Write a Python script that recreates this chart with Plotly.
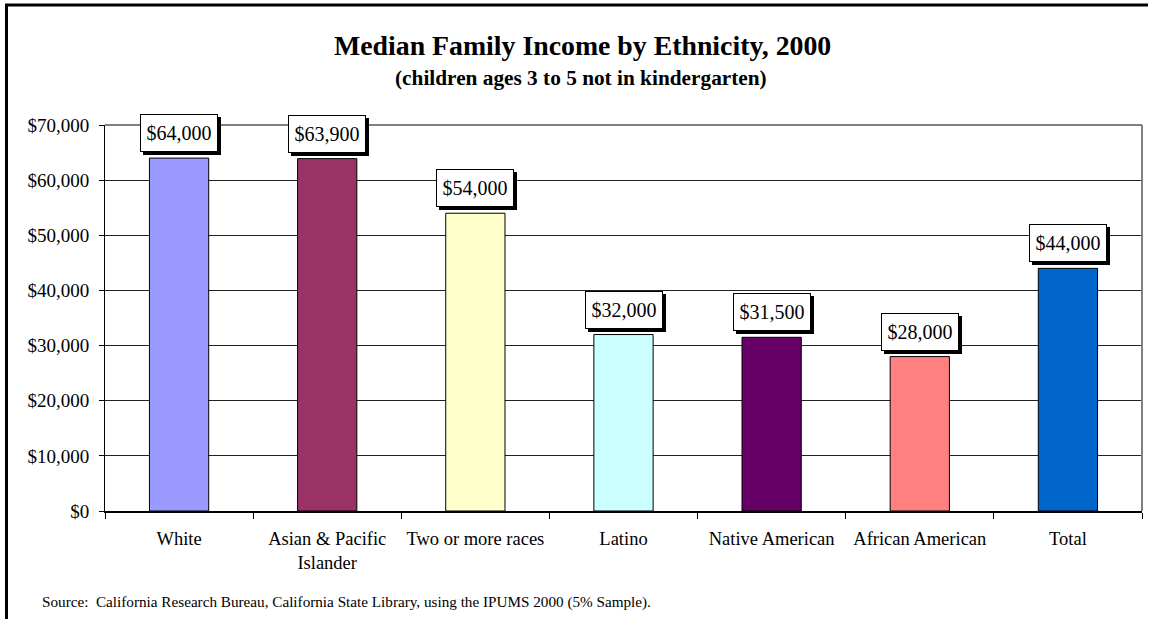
import plotly.graph_objects as go

# Median family income, children ages 3 to 5 not in kindergarten (2000)
categories = ["White", "Asian & Pacific<br>Islander", "Two or more races", "Latino",
              "Native American", "African American", "Total"]
income = [64000, 63900, 54000, 32000, 31500, 28000, 44000]
bar_colors = ["#9999FF", "#993366", "#FFFFCC", "#CCFFFF", "#660066", "#FF8080", "#0066CC"]
y_ticks = [0, 10000, 20000, 30000, 40000, 50000, 60000, 70000]
y_tick_labels = ["$0", "$10,000", "$20,000", "$30,000", "$40,000", "$50,000", "$60,000", "$70,000"]

W, H = 1153, 619
L, R, T, B = 105, 11, 125, 108
plot_w = W - L - R
plot_h = H - T - B

def px_x(p):
    return (p - L) / plot_w

def px_y(p):
    return (H - B - p) / plot_h

FONT = "Liberation Serif, Times New Roman, serif"
BOX_W, BOX_H, BOX_PAD = 66, 26, 5

fig = go.Figure(go.Bar(
    x=categories,
    y=income,
    marker=dict(color=bar_colors, line=dict(color="#000000", width=1)),
    width=0.4,
    hoverinfo="skip",
))

annotations = []
for cat, val in zip(categories, income):
    label = "${:,.0f}".format(val)
    # drop shadow behind each value box
    annotations.append(dict(
        x=cat, y=val, xref="x", yref="y", text=" ", showarrow=False,
        yanchor="bottom", xshift=3, yshift=3, width=BOX_W, height=BOX_H,
        font=dict(family=FONT, size=20, color="#000000"),
        bgcolor="#000000", bordercolor="#000000", borderwidth=1, borderpad=BOX_PAD,
    ))
    annotations.append(dict(
        x=cat, y=val, xref="x", yref="y", text=label, showarrow=False,
        yanchor="bottom", xshift=0, yshift=6, width=BOX_W, height=BOX_H,
        font=dict(family=FONT, size=20, color="#000000"),
        bgcolor="#FFFFFF", bordercolor="#000000", borderwidth=1, borderpad=BOX_PAD,
    ))

annotations += [
    dict(text="<b>Median Family Income by Ethnicity, 2000</b>", x=px_x(582), y=px_y(46),
         xref="paper", yref="paper", showarrow=False, xanchor="center", yanchor="middle",
         font=dict(family=FONT, size=27.8, color="#000000")),
    dict(text="<b>(children ages 3 to 5 not in kindergarten)</b>", x=px_x(581), y=px_y(78),
         xref="paper", yref="paper", showarrow=False, xanchor="center", yanchor="middle",
         font=dict(family=FONT, size=21.3, color="#000000")),
    dict(text="Source:  California Research Bureau, California State Library, using the IPUMS 2000 (5% Sample).",
         x=px_x(40), y=px_y(602), xref="paper", yref="paper", showarrow=False,
         xanchor="left", yanchor="middle",
         font=dict(family=FONT, size=15.2, color="#000000")),
]

shapes = [
    # outer frame (left and top edges)
    dict(type="line", xref="paper", yref="paper", x0=px_x(6.5), x1=px_x(6.5),
         y0=px_y(5), y1=px_y(640), line=dict(color="#000000", width=3)),
    dict(type="line", xref="paper", yref="paper", x0=px_x(5), x1=px_x(1148),
         y0=px_y(5), y1=px_y(5), line=dict(color="#000000", width=3)),
    # plot area border (top and right)
    dict(type="line", xref="paper", yref="paper", x0=0, x1=1, y0=1, y1=1,
         line=dict(color="#808080", width=2)),
    dict(type="line", xref="paper", yref="paper", x0=1, x1=1, y0=0, y1=1,
         line=dict(color="#808080", width=2)),
]

fig.update_layout(
    width=W, height=H,
    margin=dict(l=L, r=R, t=T, b=B),
    paper_bgcolor="#FFFFFF", plot_bgcolor="#FFFFFF",
    showlegend=False,
    bargap=0.6,
    annotations=annotations,
    shapes=shapes,
    xaxis=dict(
        type="category",
        showline=True, linecolor="#000000", linewidth=2,
        ticks="outside", tickson="boundaries", ticklen=6, tickcolor="#000000",
        tickfont=dict(family=FONT, size=18.5, color="#000000"),
        ticklabelstandoff=10,
        showgrid=False,
    ),
    yaxis=dict(
        range=[0, 70000],
        tickvals=y_ticks, ticktext=y_tick_labels,
        showline=True, linecolor="#000000", linewidth=1,
        ticks="outside", ticklen=5, tickcolor="#000000",
        tickfont=dict(family=FONT, size=19, color="#000000"),
        ticklabelstandoff=6,
        showgrid=True, gridcolor="#222222", gridwidth=1,
        zeroline=False,
    ),
)

fig.write_html("out.html")
